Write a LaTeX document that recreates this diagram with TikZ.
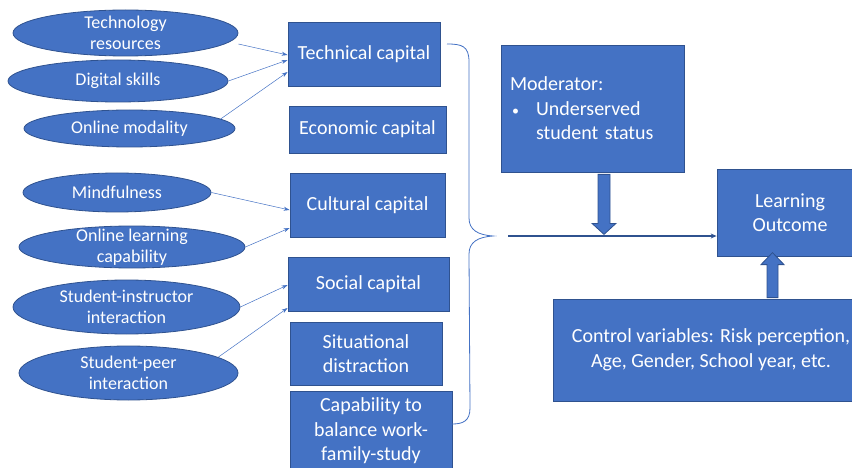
\documentclass[tikz,border=0pt]{standalone}
\usepackage{fontspec}
\setmainfont{Carlito}
\usetikzlibrary{shapes.geometric, arrows.meta}
\definecolor{boxblue}{HTML}{4472C4}
\definecolor{edgeblue}{HTML}{2F528F}

\begin{document}
\begin{tikzpicture}[x=1pt, y=-1pt,
    capbox/.style={draw=edgeblue, fill=boxblue, line width=0.8pt, text=white,
      align=center, inner sep=2pt, font=\fontsize{20}{24.5}\selectfont},
    factor/.style={ellipse, draw=edgeblue, fill=boxblue, line width=0.8pt,
      inner sep=0pt,
      label={[text=white, align=center, font=\fontsize{18}{21.5}\selectfont]center:#1}},
    link/.style={-{Stealth[length=6pt,width=4pt]}, boxblue, line width=0.5pt},
    mainarrow/.style={-{Stealth[length=6pt,width=5pt]}, edgeblue, line width=1.6pt},
    blockarrow/.style={draw=edgeblue, fill=boxblue, line width=0.8pt, line join=miter}]

    % 画布范围
    \useasboundingbox (0,0) rectangle (852,468);

    % 左侧影响因素（椭圆）
    \node[factor={Technology\\resources}, minimum width=225pt, minimum height=46pt] (e1) at (125.5,33) {};
    \node[factor={Digital skills}, minimum width=220pt, minimum height=42pt] (e2) at (118,81) {};
    \node[factor={Online modality}, minimum width=211pt, minimum height=37pt] (e3) at (129.5,128.5) {};
    \node[factor={Mindfulness}, minimum width=188pt, minimum height=39pt] (e4) at (117,192.5) {};
    \node[factor={Online learning\\capability}, minimum width=226pt, minimum height=42pt] (e5) at (132,247) {};
    \node[factor={Student-instructor\\interaction}, minimum width=227pt, minimum height=54pt] (e6) at (126.5,307) {};
    \node[factor={Student-peer\\interaction}, minimum width=219pt, minimum height=54pt] (e7) at (128.5,373) {};

    % 中间资本方框
    \node[capbox, minimum width=152pt, minimum height=64pt] (tech) at (364,54) {Technical capital};
    \node[capbox, minimum width=157pt, minimum height=47pt] (econ) at (367.5,129.5) {Economic capital};
    \node[capbox, minimum width=155pt, minimum height=64pt] (cult) at (367.5,205) {Cultural capital};
    \node[capbox, minimum width=161pt, minimum height=54pt] (soc) at (368.5,284) {Social capital};
    \node[capbox, minimum width=152pt, minimum height=63pt] (sit) at (366,353.5) {Situational\\distraction};
    \node[capbox, minimum width=162pt, minimum height=80pt] (bal) at (371,431) {Capability to\\balance work-\\family-study};

    % 椭圆指向方框的细箭头
    \draw[link] ([yshift=-11pt]e1.east) -- ([yshift=-1pt]tech.west);
    \draw[link] (e2.east) -- ([yshift=-6pt]tech.west);
    \draw[link] (e3.6) -- ([yshift=-18pt]tech.west);
    \draw[link] (e4.east) -- ([yshift=-5pt]cult.west);
    \draw[link] (e5.east) -- ([yshift=-23pt]cult.west);
    \draw[link] (e6.east) -- ([yshift=-1pt]soc.west);
    \draw[link] (e7.10) -- ([yshift=-24pt]soc.west);

    % 右侧大括号
    \coordinate (bracetip) at (493,236);
    \draw[boxblue, line width=0.8pt] (447,44) .. controls (462,44) and (469,46) .. (469,62)
      -- (469,218) .. controls (469,230) and (478,235) .. (bracetip)
      .. controls (478,237) and (469,242) .. (469,254)
      -- (470,408) .. controls (470,421) and (463,424) .. (452,424);

    % 调节变量、结果与控制变量
    \node[capbox, align=left, text width=165pt, inner xsep=9pt,
      minimum width=183pt, minimum height=127pt] (moderator) at (592.5,108.5)
      {Moderator:\\\makebox[26pt][l]{\hspace{2pt}\scalebox{0.7}{\textbullet}}Underserved\\\hspace*{26pt}student status};
    \node[capbox, minimum width=146pt, minimum height=87pt] (outcome) at (790,212.5) {Learning\\Outcome};
    \node[capbox, minimum width=316pt, minimum height=102pt] (control) at (711,350)
      {Control variables: Risk perception,\\Age, Gender, School year, etc.};

    % 主箭头
    \draw[mainarrow] ([xshift=15pt]bracetip) -- (bracetip -| outcome.west);

    % 粗箭头
    \draw[blockarrow] ([xshift=5.5pt,yshift=-2pt]moderator.south) -- ++(12,0) -- ++(0,49)
      -- ++(6,0) -- ++(-12,11) -- ++(-12,-11) -- ++(6,0) -- cycle;
    \draw[blockarrow] ([xshift=56pt,yshift=1pt]control.north) -- ++(11,0) -- ++(0,-33)
      -- ++(6,0) -- ++(-11.5,-12) -- ++(-11.5,12) -- ++(6,0) -- cycle;

\end{tikzpicture}
\end{document}
